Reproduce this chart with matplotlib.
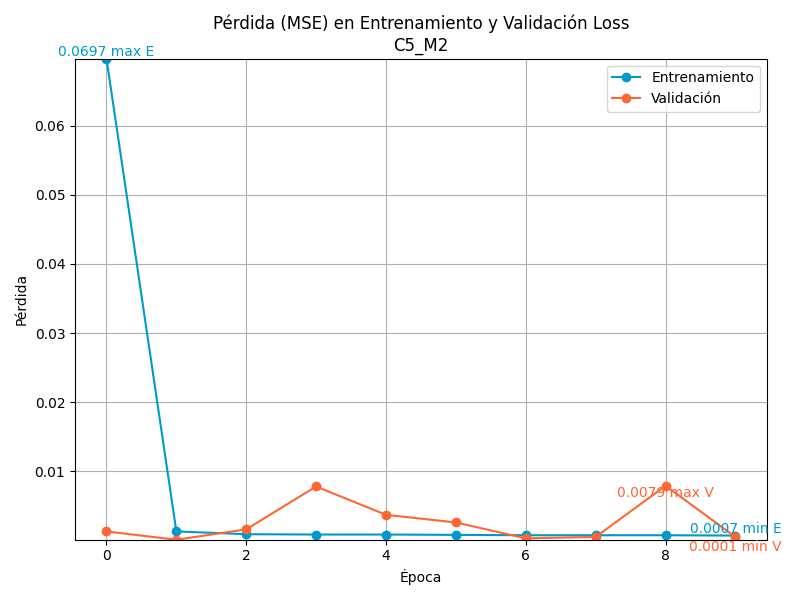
import matplotlib
matplotlib.use("Agg")
import matplotlib.pyplot as plt

epochs = list(range(10))
train_loss = [0.0697, 0.0013, 0.0009, 0.00085, 0.00085, 0.0008, 0.00075, 0.00075, 0.00075, 0.0007]
val_loss = [0.0013, 0.0001, 0.0016, 0.0078, 0.0037, 0.0026, 0.0003, 0.0005, 0.0079, 0.0005]

C_TRAIN = "#0099cc"
C_VAL = "#ff6633"

fig, ax = plt.subplots(figsize=(8, 6), dpi=100)
ax.plot(epochs, train_loss, marker="o", color=C_TRAIN, label="Entrenamiento")
ax.plot(epochs, val_loss, marker="o", color=C_VAL, label="Validación")

last = epochs[-1]
ax.text(0, max(train_loss), f"{max(train_loss):.4f} max E", color=C_TRAIN, ha="center", va="bottom")
ax.text(last, min(train_loss), f"{min(train_loss):.4f} min E", color=C_TRAIN, ha="center", va="bottom")
ax.text(val_loss.index(max(val_loss)), max(val_loss), f"{max(val_loss):.4f} max V", color=C_VAL, ha="center", va="top")
ax.text(last, min(val_loss), f"{min(val_loss):.4f} min V", color=C_VAL, ha="center", va="top")

ax.set_ylim(min(val_loss), max(train_loss))
ax.set_title("Pérdida (MSE) en Entrenamiento y Validación Loss\nC5_M2")
ax.set_xlabel("Época")
ax.set_ylabel("Pérdida")
ax.grid(True)
ax.legend(loc="upper right")
plt.tight_layout()
fig.savefig("out.png")
